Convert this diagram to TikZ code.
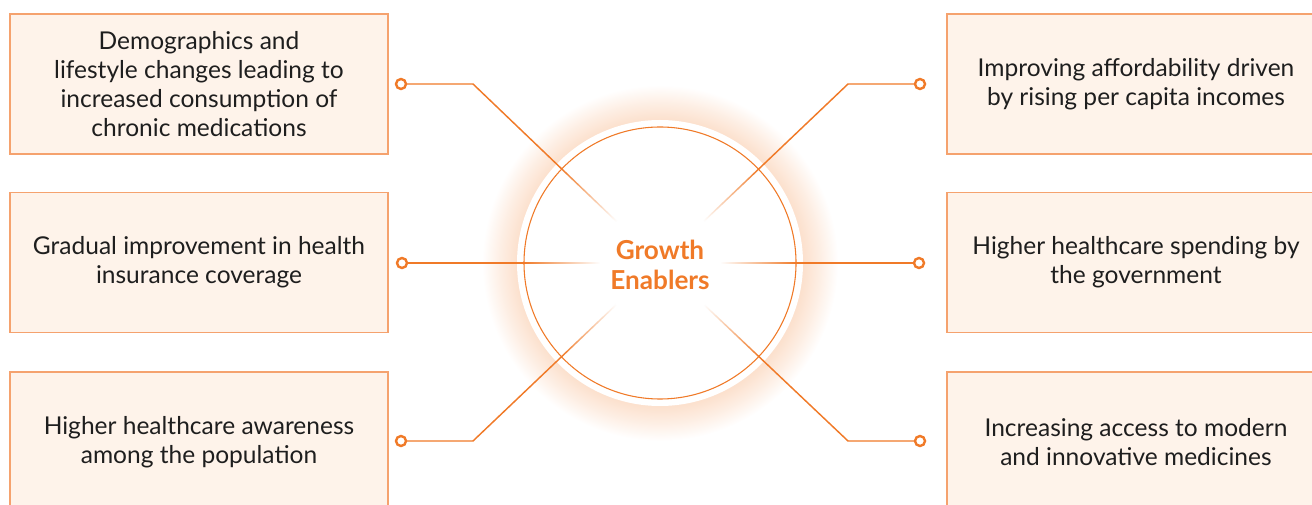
\documentclass[tikz,border=0pt]{standalone}
\usepackage{fontspec}
\setmainfont{Lato}
\usetikzlibrary{fadings}
\definecolor{georange}{HTML}{F07A28}
\definecolor{boxfill}{HTML}{FEF3EA}
\definecolor{boxline}{HTML}{F5A26E}
\definecolor{glowc}{HTML}{FCE1CE}
\definecolor{textc}{HTML}{1E1E1E}
\pgfdeclareradialshading{glow}{\pgfpointorigin}{color(0bp)=(glowc); color(20.2bp)=(glowc); color(22.5bp)=(glowc!55!white); color(25bp)=(white); color(50bp)=(white)}
\pgfdeclareradialshading{fadeshade}{\pgfpointorigin}{color(0bp)=(white); color(11bp)=(white); color(25bp)=(black); color(50bp)=(black)}
\pgfdeclarefading{centerfade}{\pgfuseshading{fadeshade}}
\tikzset{
  enabler/.style={draw=boxline, fill=boxfill, line width=1.1pt, minimum width=283.5pt,
    minimum height=105pt, align=center, inner sep=0pt, text=textc,
    font=\fontsize{18.4}{21.75}\selectfont},
  dot/.style={circle, draw=georange, fill=white, line width=1.8pt, minimum size=7.5pt, inner sep=0pt},
  link/.style={draw=georange, line width=1.1pt},
}
\newcommand{\Enabler}[3]{\node[enabler] (#1) at (#2) {#3};}
\newcommand{\Dot}[2]{\node[dot] (#1) at (#2) {};}
\begin{document}
\begin{tikzpicture}[x=0.75pt, y=-0.75pt]
\useasboundingbox (0,0) rectangle (1312,505);
\coordinate (hub) at (660,263);

% glow and ring
\shade[shading=glow] (hub) circle (133.5pt);
\fill[white] (hub) circle (107.25pt);

% enablers
\Enabler{L1}{199,84}{Demographics and\\lifestyle changes leading to\\increased consumption of\\chronic medications}
\Enabler{L2}{199,262.5}{Gradual improvement in health\\insurance coverage}
\Enabler{L3}{199,442}{Higher healthcare awareness\\among the population}
\Enabler{R1}{1136,84}{Improving affordability driven\\by rising per capita incomes}
\Enabler{R2}{1136,262.5}{Higher healthcare spending by\\the government}
\Enabler{R3}{1136,442}{Increasing access to modern\\and innovative medicines}

\Dot{dL1}{401,84}
\Dot{dL2}{402,263}
\Dot{dL3}{401,441}
\Dot{dR1}{920,84}
\Dot{dR2}{919,263}
\Dot{dR3}{920,441}

\coordinate (bL1) at (473,84);
\coordinate (bL3) at (473,441);
\coordinate (bR1) at (848,84);
\coordinate (bR3) at (848,441);

\draw[link] (dL1) -- (bL1) -- (hub);
\draw[link] (dL2) -- (hub);
\draw[link] (dL3) -- (bL3) -- (hub);
\draw[link] (dR1) -- (bR1) -- (hub);
\draw[link] (dR2) -- (hub);
\draw[link] (dR3) -- (bR3) -- (hub);

% centre
\fill[white, path fading=centerfade] (hub) circle (102pt);
\draw[georange, line width=0.8pt] (hub) circle (102pt);
\node[align=center, text=georange, font=\fontsize{19.6}{22.5}\selectfont\bfseries] (GE) at ([yshift=-1.5pt]hub) {Growth\\Enablers};
\end{tikzpicture}
\end{document}
